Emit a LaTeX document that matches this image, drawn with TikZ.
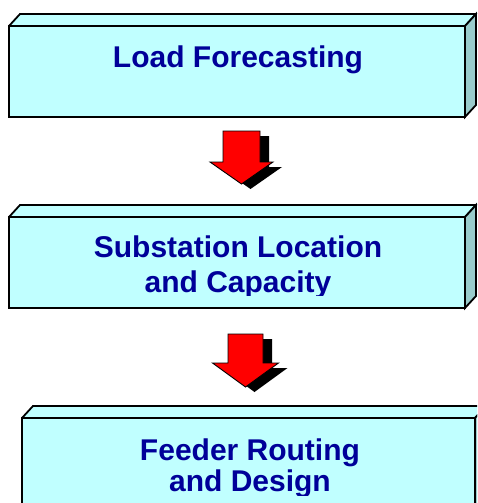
\documentclass[tikz,border=0pt]{standalone}
\usepackage{fontspec}
\setmainfont{Liberation Sans}
\definecolor{boxfront}{RGB}{192,255,255}
\definecolor{boxside}{RGB}{153,204,204}
\definecolor{navytext}{RGB}{0,0,153}
\definecolor{arrowred}{RGB}{255,0,0}
\newcommand\mycuboid[4]{%
  \fill[boxfront] (#1,#2) -- ++(11,-12) -- (#3+11,#2-12) -- (#3,#2) -- cycle;
  \draw[boxline] (#1,#2) -- ++(11,-12) -- (#3+11,#2-12) -- (#3,#2);
  \filldraw[boxline,fill=boxside] (#3,#2) -- (#3+11,#2-12) -- (#3+11,#4-12) -- (#3,#4) -- cycle;
  \filldraw[boxline,fill=boxfront] (#1,#2) rectangle (#3,#4);
}
\newcommand\myblockarrow[6]{% cx, shaft half width, top, head top, head half width, tip y
  \fill[black] (#1-#2+9,#3+5) -- (#1+#2+9,#3+5) -- (#1+#2+9,#4+5) -- (#1+#5+9,#4+5) -- (#1+9,#6+5) -- (#1-#5+9,#4+5) -- (#1-#2+9,#4+5) -- cycle;
  \filldraw[fill=arrowred,draw=black,line width=0.9pt,line join=miter] (#1-#2,#3) -- (#1+#2,#3) -- (#1+#2,#4) -- (#1+#5,#4) -- (#1,#6) -- (#1-#5,#4) -- (#1-#2,#4) -- cycle;
}
\begin{document}
\begin{tikzpicture}[x=1pt,y=-1pt,
  boxline/.style={draw=black,line width=1.8pt,line join=miter},
  label/.style={text=navytext,font=\fontsize{30}{35}\selectfont\bfseries,align=center,inner sep=0pt,anchor=base}]
\useasboundingbox (0,0) rectangle (477,503);
\clip (0,0) rectangle (477,503);
% boxes
\mycuboid{9}{26}{465}{117}
\mycuboid{9}{217}{465}{308}
\mycuboid{22}{418}{475}{545}
% labels
\node[label] (load) at (238,67) {Load Forecasting};
\begin{scope}
\clip (0,200) rectangle (477,295);
\node[label] (subst) at (238,257) {Substation Location};
\node[label] (substb) at (238,292) {and Capacity};
\end{scope}
\begin{scope}
\clip (0,400) rectangle (477,495);
\node[label] (feed) at (250,460) {Feeder Routing};
\node[label] (feedb) at (250,491) {and Design};
\end{scope}
% arrows
\coordinate (a1) at (241.5,131);
\coordinate (a2) at (245.5,334);
\myblockarrow{241.5}{18.5}{131}{162}{31.5}{184}
\myblockarrow{245.5}{17.5}{334}{363}{33}{387}
\end{tikzpicture}
\end{document}
